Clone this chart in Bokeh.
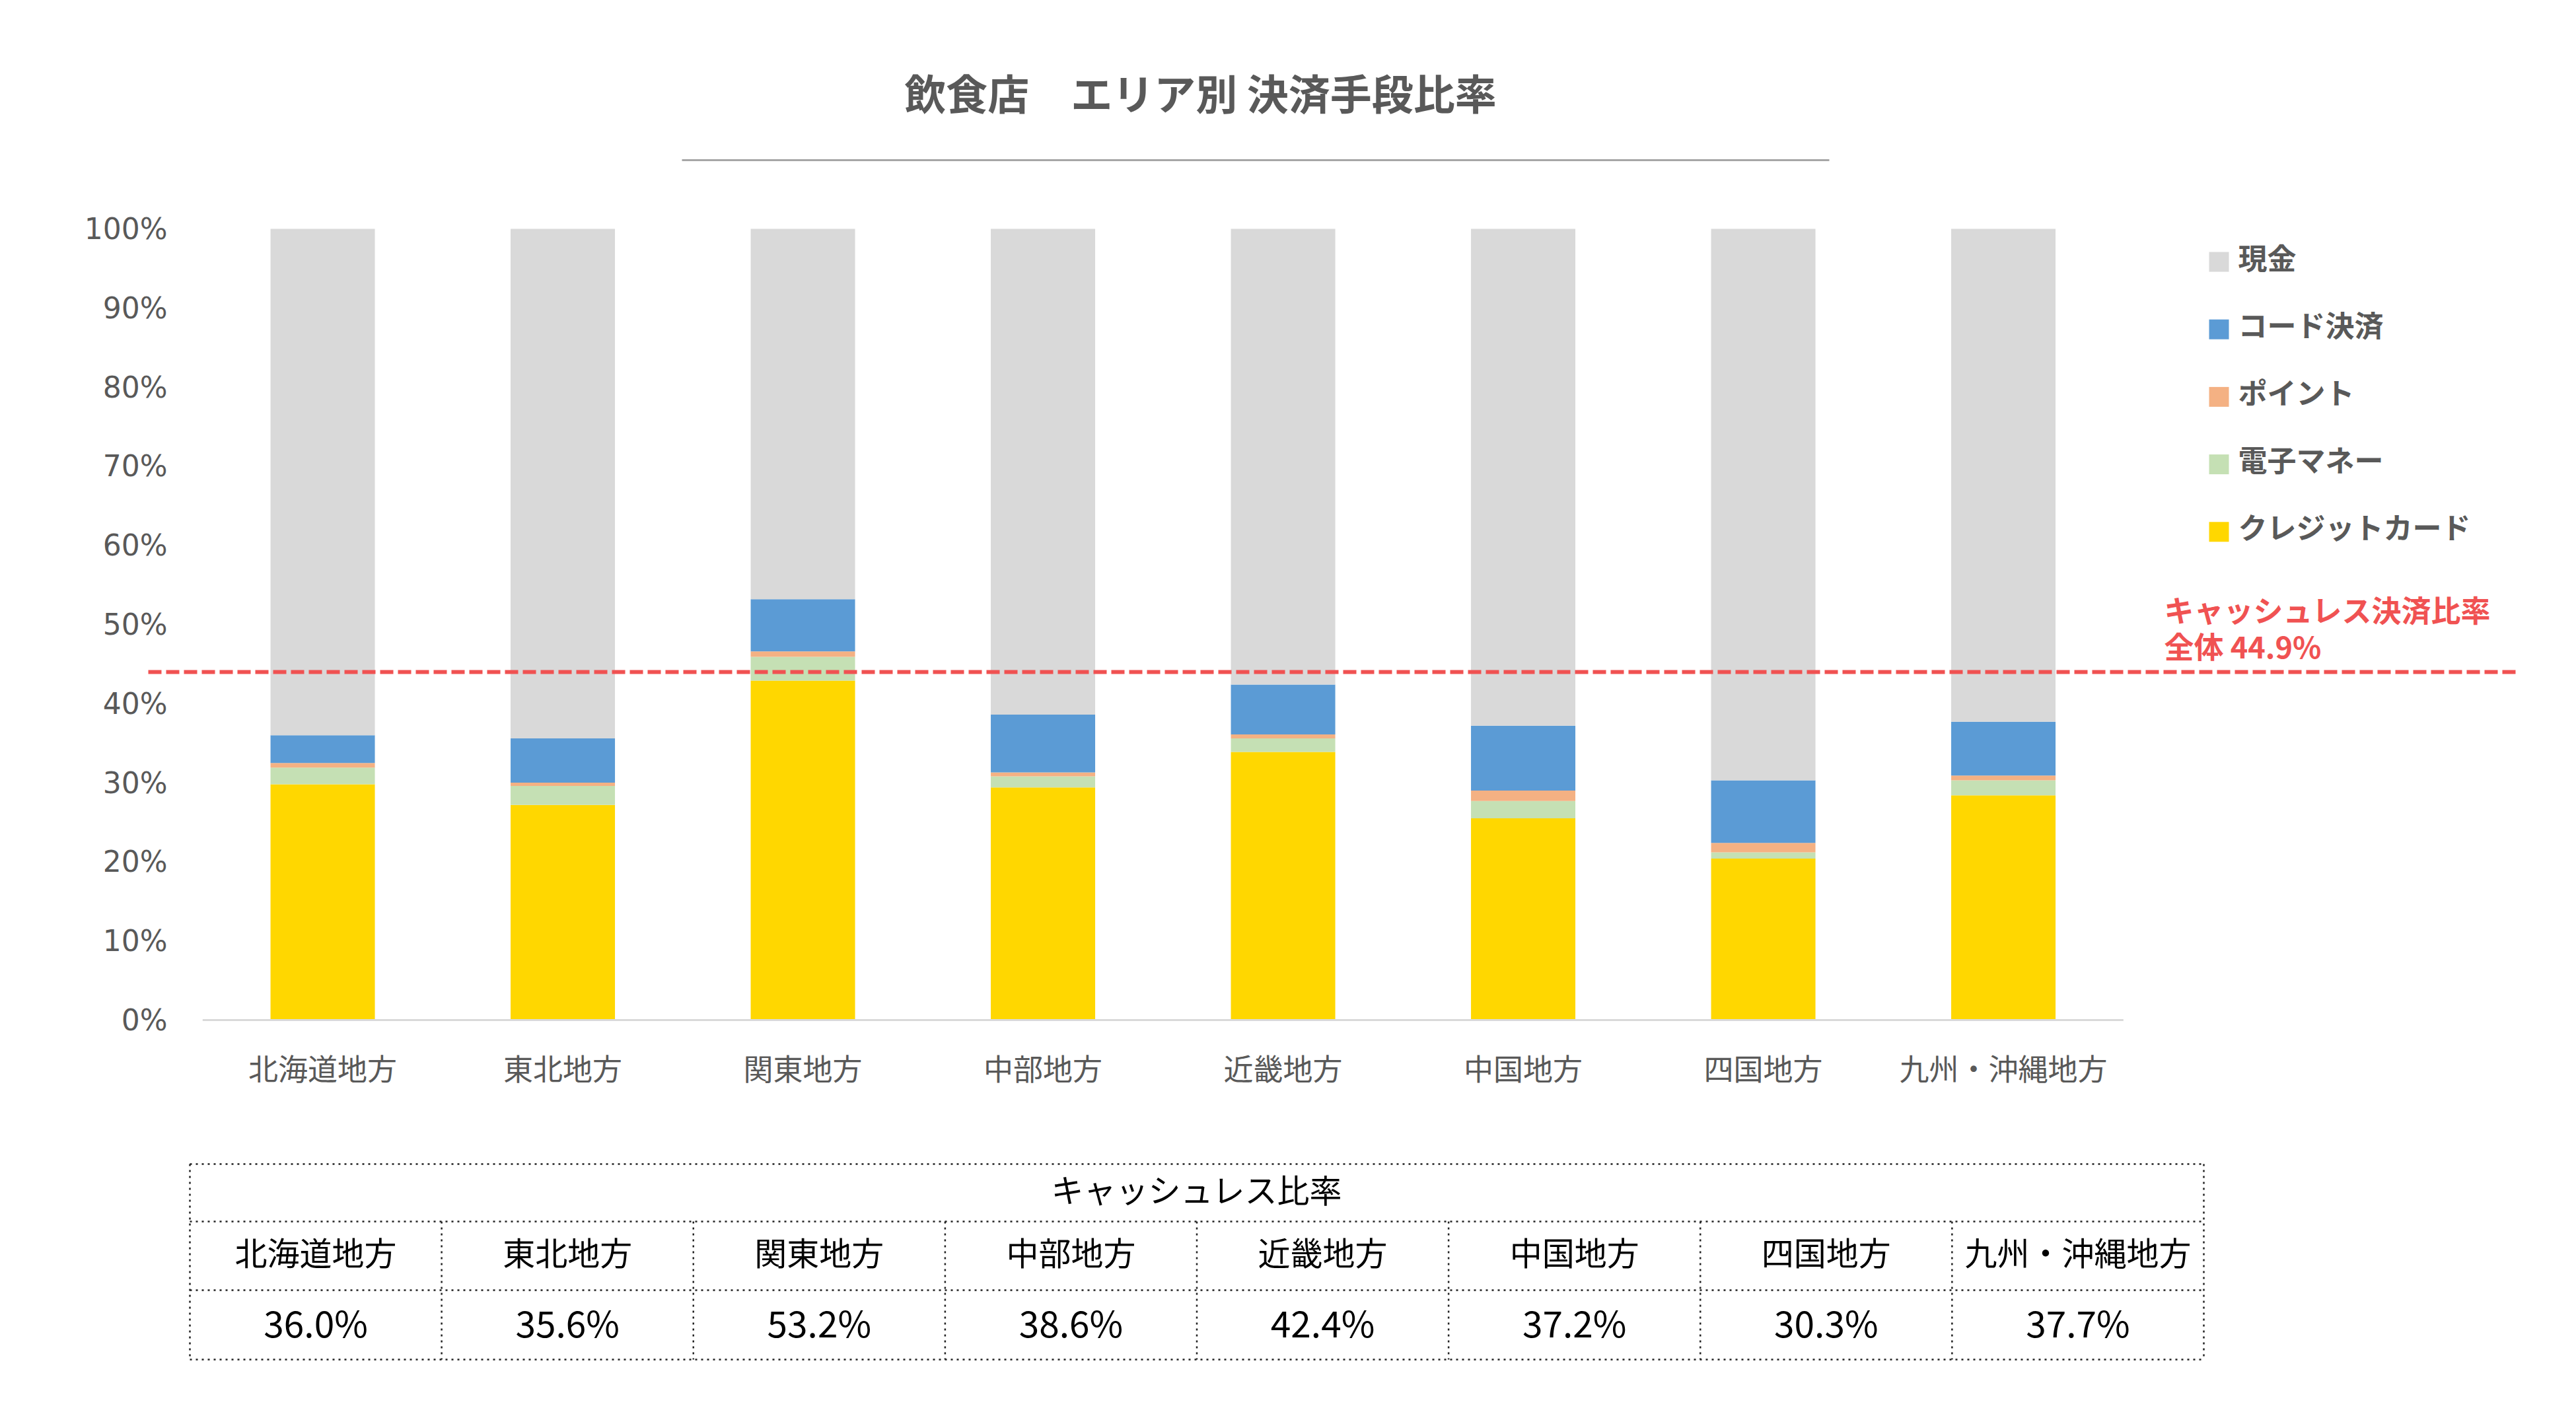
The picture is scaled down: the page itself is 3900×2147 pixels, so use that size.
from bokeh.plotting import figure
from bokeh.models import Range1d, LinearAxis, FixedTicker, PrintfTickFormatter, ColumnDataSource
from bokeh.core.properties import value
from bokeh.embed import file_html
from bokeh.resources import INLINE

# ---------------- data ----------------
regions = ["北海道地方", "東北地方", "関東地方", "中部地方", "近畿地方", "中国地方", "四国地方", "九州・沖縄地方"]
credit = [29.8, 27.2, 42.9, 29.4, 33.9, 25.5, 20.4, 28.4]
emoney = [2.1, 2.4, 3.0, 1.4, 1.7, 2.2, 0.8, 1.9]
point = [0.6, 0.4, 0.7, 0.5, 0.5, 1.3, 1.2, 0.6]
code = [3.5, 5.6, 6.6, 7.3, 6.3, 8.2, 7.9, 6.8]
cash = [64.0, 64.4, 46.8, 61.4, 57.6, 62.8, 69.7, 62.3]
cashless_rate = [36.0, 35.6, 53.2, 38.6, 42.4, 37.2, 30.3, 37.7]
overall_line = 44.0
overall_label = "44.9%"
series_names = ["クレジットカード", "電子マネー", "ポイント", "コード決済", "現金"]
series_colors = ["#FFD700", "#C5E0B4", "#F4B183", "#5B9BD5", "#D9D9D9"]
y_ticks = [0, 10, 20, 30, 40, 50, 60, 70, 80, 90, 100]
title_text = "飲食店　エリア別 決済手段比率"
table_title = "キャッシュレス比率"
note_lines = ["キャッシュレス決済比率", "全体 " + overall_label]

# ---------------- layout helpers (page pixels -> data) ----------------
W, H = 3880, 2100
OFF = 1                    # observed page offset of the canvas
X0, SX = 307.3, 363.5      # page x of category 0, px per category
Y0, SY = 1545.0, 11.98     # page y of 0%, px per percent


def dx(px):
    return (px - X0) / SX


def dy(py):
    return (Y0 - py) / SY


JP = value("Noto Sans CJK JP")
GREY_TXT = "#595959"
RED = "#F05252"

p = figure(width=W, height=H, output_backend="svg", toolbar_location=None,
           x_range=Range1d(dx(OFF), dx(OFF + W)), y_range=Range1d(dy(OFF + H), dy(OFF)),
           x_axis_type=None, y_axis_type=None, min_border=0, title=None)
p.outline_line_color = None
p.background_fill_color = "white"
p.border_fill_color = "white"

# ---------------- bars ----------------
src = ColumnDataSource(dict(x=[i + 0.5 for i in range(len(regions))],
                            **{"クレジットカード": credit, "電子マネー": emoney, "ポイント": point,
                               "コード決済": code, "現金": cash}))
p.vbar_stack(series_names, x="x", width=158 / SX, fill_color=series_colors,
             line_color=None, source=src)

# baseline of category axis
p.line(x=[0, len(regions)], y=[0, 0], line_color="#D9D9D9", line_width=3)

# ---------------- axes ----------------
yax = LinearAxis(fixed_location=dx(264))
yax.ticker = FixedTicker(ticks=y_ticks)
yax.formatter = PrintfTickFormatter(format="%d%%")
yax.axis_line_color = None
yax.major_tick_line_color = None
yax.minor_tick_line_color = None
yax.major_tick_out = 0
yax.major_tick_in = 0
yax.major_label_standoff = 10
yax.major_label_text_font = "DejaVu Sans"
yax.major_label_text_font_size = "44px"
yax.major_label_text_color = GREY_TXT
p.add_layout(yax, "left")

xax = LinearAxis(fixed_location=0)
xticks = [i + 0.5 for i in range(len(regions))]
xax.ticker = FixedTicker(ticks=xticks)
xax.major_label_overrides = {t: r for t, r in zip(xticks, regions)}
xax.axis_line_color = None
xax.major_tick_line_color = None
xax.minor_tick_line_color = None
xax.major_tick_out = 0
xax.major_tick_in = 0
xax.major_label_standoff = 39
xax.major_label_text_font = "Noto Sans CJK JP"
xax.major_label_text_font_size = "45px"
xax.major_label_text_color = GREY_TXT
p.add_layout(xax, "below")

# ---------------- overall dashed line & note ----------------
p.line(x=[dx(225), dx(3815)], y=[overall_line, overall_line], line_color=RED,
       line_width=6, line_dash="20 7")
p.text(x=[dx(3277)] * 2, y=[dy(923), dy(978)], text=note_lines,
       text_align="left", text_baseline="middle", text_font=JP,
       text_font_style="bold", text_font_size=value("45px"), text_color=RED)

# ---------------- title ----------------
p.text(x=[dx(1818)], y=[dy(139)], text=[title_text], text_align="center",
       text_baseline="middle", text_font=JP, text_font_style="bold",
       text_font_size=value("63px"), text_color=GREY_TXT)
p.line(x=[dx(1033), dx(2770)], y=[dy(243)] * 2, line_color="#A6A6A6", line_width=3)

# ---------------- legend (top -> bottom order) ----------------
leg_names = series_names[::-1]
leg_colors = series_colors[::-1]
leg_y = [397 + 102.2 * i for i in range(len(leg_names))]
p.scatter(x=[dx(3360)] * len(leg_names), y=[dy(v) for v in leg_y], marker="square",
          size=30, fill_color=leg_colors, line_color=None)
p.text(x=[dx(3389)] * len(leg_names), y=[dy(v - 8) for v in leg_y], text=leg_names,
       text_align="left", text_baseline="middle", text_font=JP, text_font_style="bold",
       text_font_size=value("44px"), text_color=GREY_TXT)

# ---------------- table ----------------
TL, TR = 288.0, 3337.0
rows_y = [1763.0, 1850.0, 1954.0, 2059.0]
ncol = len(regions)
cw = (TR - TL) / ncol
xs, ys = [], []
for ry in rows_y:
    xs.append([dx(TL), dx(TR)])
    ys.append([dy(ry), dy(ry)])
for xe in (TL, TR):
    xs.append([dx(xe), dx(xe)])
    ys.append([dy(rows_y[0]), dy(rows_y[-1])])
for k in range(1, ncol):
    xe = TL + k * cw
    xs.append([dx(xe), dx(xe)])
    ys.append([dy(rows_y[1]), dy(rows_y[-1])])
p.multi_line(xs=xs, ys=ys, line_color="#222222", line_width=2.5, line_dash="3 6")

TXT_SHIFT = 7
col_cx = [dx(TL + (k + 0.5) * cw) for k in range(ncol)]
p.text(x=[dx((TL + TR) / 2)], y=[dy((rows_y[0] + rows_y[1]) / 2 - TXT_SHIFT)], text=[table_title],
       text_align="center", text_baseline="middle", text_font=JP,
       text_font_size=value("49px"), text_color="#000000")
p.text(x=col_cx, y=[dy((rows_y[1] + rows_y[2]) / 2 - TXT_SHIFT)] * ncol, text=regions,
       text_align="center", text_baseline="middle", text_font=JP,
       text_font_size=value("49px"), text_color="#000000")
p.text(x=col_cx, y=[dy((rows_y[2] + rows_y[3]) / 2 - TXT_SHIFT + 2)] * ncol,
       text=[f"{v:.1f}%" for v in cashless_rate],
       text_align="center", text_baseline="middle", text_font=JP,
       text_font_size=value("55px"), text_color="#000000")

open("out.html", "w").write(file_html(p, INLINE))
